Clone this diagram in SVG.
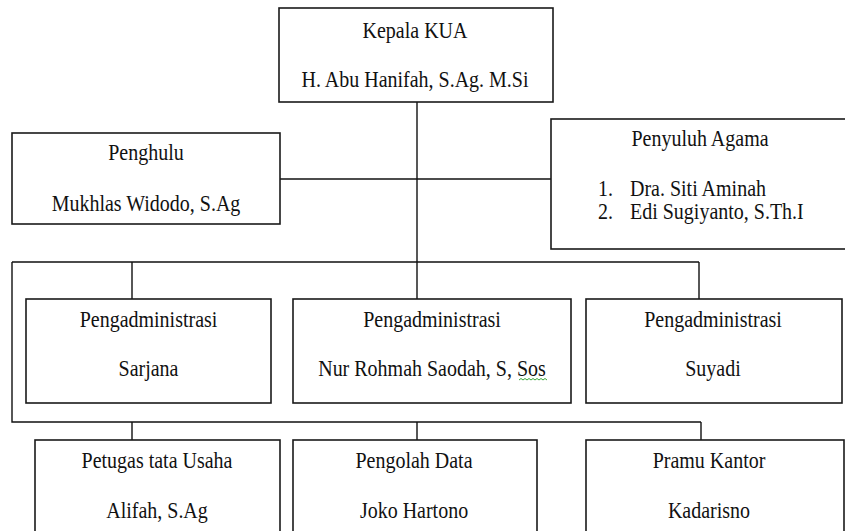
<svg xmlns="http://www.w3.org/2000/svg" width="845" height="531" viewBox="0 0 845 531">
<style>
.box{fill:#fff;stroke:#1a1a1a;stroke-width:1.6}
.t{font-size:20px;fill:#111}
.c{text-anchor:middle}
.ln{stroke:#111;stroke-width:1.4;fill:none}
</style>
<rect width="845" height="531" fill="#fff"/>
<g id="connectors">
<path class="ln" d="M417 102V299"/>
<path class="ln" d="M280 179H551"/>
<path class="ln" d="M12 262H699M132 262V299M699 262V299"/>
<path class="ln" d="M12 262V422H701M132 422V440M417 422V440M701 422V440"/>
</g>
<g font-family="'Liberation Serif', 'Times New Roman', serif">
<g id="kepala">
<rect class="box" x="279" y="8" width="274" height="94"/>
<text class="t c" transform="translate(415 38) scale(1 1.12)">Kepala KUA</text>
<text class="t c" transform="translate(415 87) scale(1 1.12)">H. Abu Hanifah, S.Ag. M.Si</text>
</g>
<g id="penghulu">
<rect class="box" x="12" y="133" width="268" height="91"/>
<text class="t c" transform="translate(146 160) scale(1 1.12)">Penghulu</text>
<text class="t c" transform="translate(146 211) scale(1 1.12)">Mukhlas Widodo, S.Ag</text>
</g>
<g id="penyuluh">
<rect class="box" x="551" y="119" width="300" height="130"/>
<text class="t c" transform="translate(700 146) scale(1 1.12)">Penyuluh Agama</text>
<text class="t" transform="translate(598 196) scale(1 1.12)">1.</text>
<text class="t" transform="translate(630 196) scale(1 1.12)">Dra. Siti Aminah</text>
<text class="t" transform="translate(598 219) scale(1 1.12)">2.</text>
<text class="t" transform="translate(630 219) scale(1 1.12)">Edi Sugiyanto, S.Th.I</text>
</g>
<g id="adm1">
<rect class="box" x="26" y="299" width="245" height="104"/>
<text class="t c" transform="translate(148.5 327) scale(1 1.12)">Pengadministrasi</text>
<text class="t c" transform="translate(148.5 376) scale(1 1.12)">Sarjana</text>
</g>
<g id="adm2">
<rect class="box" x="293" y="299" width="278" height="104"/>
<text class="t c" transform="translate(432 327) scale(1 1.12)">Pengadministrasi</text>
<text class="t c" transform="translate(432 376) scale(1 1.12)">Nur Rohmah Saodah, S, Sos</text>
<path d="M519 380l2-1.5 2 1.5 2-1.5 2 1.5 2-1.5 2 1.5 2-1.5 2 1.5 2-1.5 2 1.5 2-1.5 2 1.5 2-1.5 2 1.5" fill="none" stroke="#3aa63a" stroke-width="1"/>
</g>
<g id="adm3">
<rect class="box" x="586" y="299" width="256" height="104"/>
<text class="t c" transform="translate(713 327) scale(1 1.12)">Pengadministrasi</text>
<text class="t c" transform="translate(713 376) scale(1 1.12)">Suyadi</text>
</g>
<g id="tatausaha">
<rect class="box" x="35" y="440" width="245" height="100"/>
<text class="t c" transform="translate(157 468) scale(1 1.12)">Petugas tata Usaha</text>
<text class="t c" transform="translate(157 518) scale(1 1.12)">Alifah, S.Ag</text>
</g>
<g id="pengolah">
<rect class="box" x="293" y="440" width="244" height="100"/>
<text class="t c" transform="translate(414 468) scale(1 1.12)">Pengolah Data</text>
<text class="t c" transform="translate(414 518) scale(1 1.12)">Joko Hartono</text>
</g>
<g id="pramu">
<rect class="box" x="586" y="440" width="258" height="100"/>
<text class="t c" transform="translate(709 468) scale(1 1.12)">Pramu Kantor</text>
<text class="t c" transform="translate(709 518) scale(1 1.12)">Kadarisno</text>
</g>
</g>
</svg>
